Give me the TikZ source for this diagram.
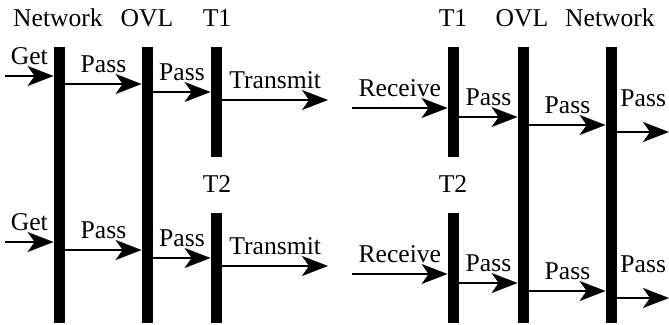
\documentclass[tikz,border=0pt]{standalone}
\usepackage{fontspec}
\newfontfamily\timesfont{Liberation Serif}
\usetikzlibrary{arrows.meta}

\begin{document}
\begin{tikzpicture}[x=0.5pt,y=-0.5pt,
   bar/.style={fill=black,inner sep=0pt,minimum width=5.5pt},
   arr/.style={line width=1pt,-{Stealth[length=13pt,width=10pt,inset=3.5pt]}},
   txt/.style={font=\timesfont\fontsize{12.8}{15}\selectfont,inner sep=0pt},
   lbl/.style={txt,above=5pt}]
   \useasboundingbox (0,0) rectangle (669,325);
   \node[bar,minimum height=138pt] (netL) at (59.5,185) {};
   \node[bar,minimum height=138pt] (ovlL) at (147.5,185) {};
   \node[bar,minimum height=138pt] (ovlR) at (523.5,185) {};
   \node[bar,minimum height=138pt] (netR) at (611.5,185) {};
   \foreach \r/\y in {1/102, 2/268}
    {\node[bar,minimum height=55pt] (tL\r) at (216.5,\y) {};
     \node[bar,minimum height=55pt] (tR\r) at (453.5,\y) {};}
   \node[txt,anchor=base] (hNetL) at (58,26.7) {Network};
   \node[txt,anchor=base] (hOvlL) at (147,26.7) {OVL};
   \node[txt,anchor=base] (hTL1) at (217,26.7) {T1};
   \node[txt,anchor=base] (hTL2) at (217,193) {T2};
   \node[txt,anchor=base] (hTR1) at (453,26.7) {T1};
   \node[txt,anchor=base] (hOvlR) at (522,26.7) {OVL};
   \node[txt,anchor=base] (hNetR) at (610,26.7) {Network};
   \node[txt,anchor=base] (hTR2) at (453,193) {T2};
   \foreach \r/\a/\b/\c/\d/\e/\f/\g/\h in
       {1/76/84/92/100/108/117/125/132, 2/242/250/258/266/274/283/291/298}
    {\coordinate (get\r) at (5,\a);
     \coordinate (tx\r) at (328,\d);
     \coordinate (rx\r) at (352,\e);
     \coordinate (out\r) at (669,\h);
     \draw[arr] (get\r) -- node[lbl] {Get} (netL.west |- get\r);
     \draw[arr] (netL.east |- 0,\b) -- node[lbl] {Pass} (ovlL.west |- 0,\b);
     \draw[arr] (ovlL.east |- 0,\c) -- node[lbl] {Pass} (tL\r.west |- 0,\c);
     \draw[arr] (tL\r.east |- tx\r) -- node[lbl] {Transmit} (tx\r);
     \draw[arr] (rx\r) -- node[lbl] {Receive} (tR\r.west |- rx\r);
     \draw[arr] (tR\r.east |- 0,\f) -- node[lbl] {Pass} (ovlR.west |- 0,\f);
     \draw[arr] (ovlR.east |- 0,\g) -- node[lbl] {Pass} (netR.west |- 0,\g);
     \draw[arr] (netR.east |- out\r) -- node[lbl,above=7pt] {Pass} (out\r);}
\end{tikzpicture}
\end{document}
